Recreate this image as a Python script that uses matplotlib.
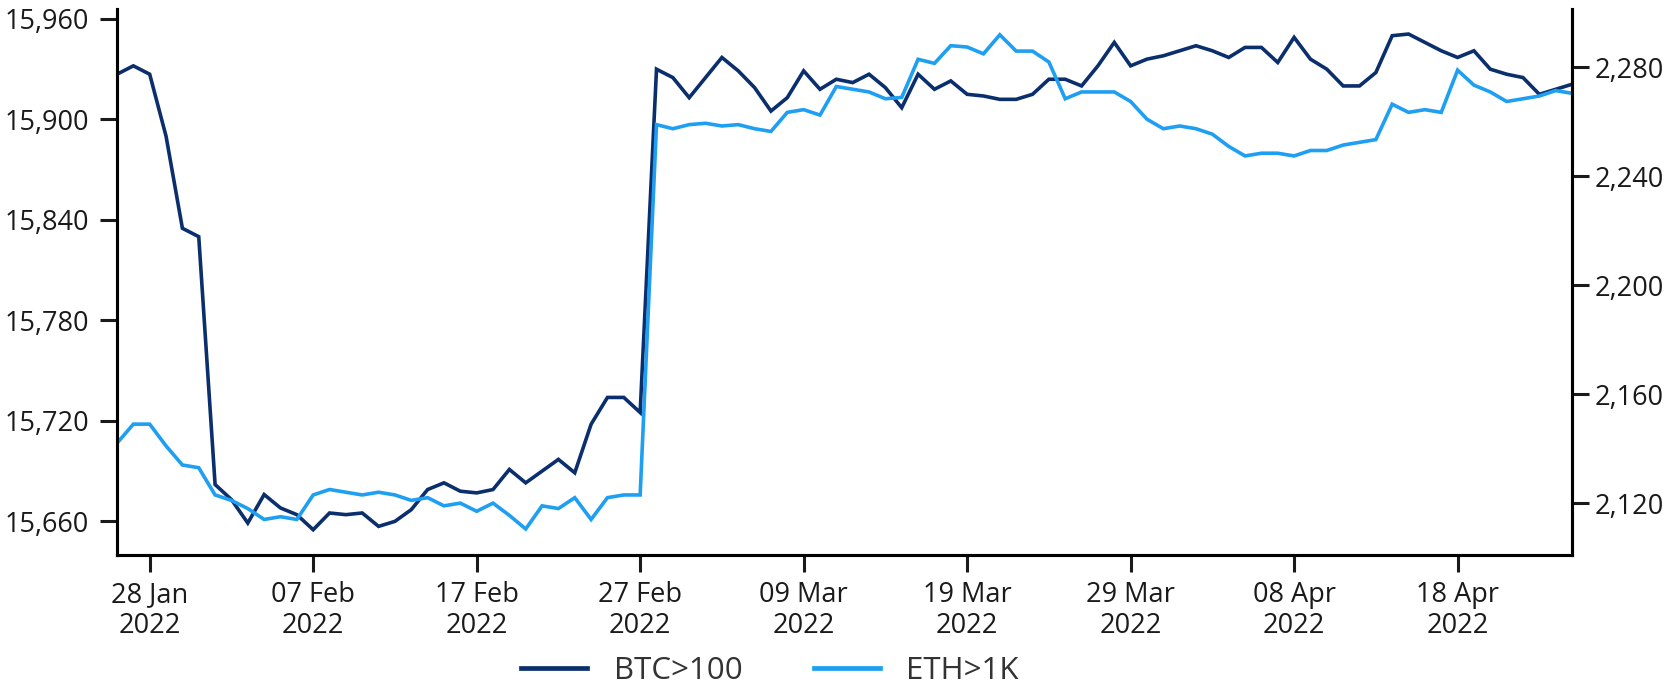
'''
BTC>100 vs ETH>1K daily series, two y axes.
'''

import matplotlib
matplotlib.use("Agg")
import matplotlib.pyplot as plt
import matplotlib.dates as mdates
import matplotlib.ticker as mticker
import pandas as pd

# Daily values, 26 Jan 2022 - 25 Apr 2022
dates = pd.date_range("2022-01-26", periods=90, freq="D")

btc_100 = [
    15927, 15932, 15927, 15890, 15835, 15830, 15682, 15673, 15659, 15676,
    15668, 15664, 15655, 15665, 15664, 15665, 15657, 15660, 15667, 15679,
    15683, 15678, 15677, 15679, 15691, 15683, 15690, 15697, 15689, 15718,
    15734, 15734, 15725, 15930, 15925, 15913, 15925, 15937, 15929, 15919,
    15905, 15913, 15929, 15918, 15924, 15922, 15927, 15919, 15907, 15927,
    15918, 15923, 15915, 15914, 15912, 15912, 15915, 15924, 15924, 15920,
    15932, 15946, 15932, 15936, 15938, 15941, 15944, 15941, 15937, 15943,
    15943, 15934, 15949, 15936, 15930, 15920, 15920, 15928, 15950, 15951,
    15946, 15941, 15937, 15941, 15930, 15927, 15925, 15915, 15918, 15921,
]

eth_1k = [
    2142, 2149, 2149, 2141, 2134, 2133, 2123, 2121, 2118, 2114,
    2115, 2114, 2123, 2125, 2124, 2123, 2124, 2123, 2121, 2122,
    2119, 2120, 2117, 2120, 2115.5, 2110.5, 2119, 2118, 2122, 2114,
    2122, 2123, 2123, 2259, 2257.5, 2259, 2259.5, 2258.5, 2259, 2257.5,
    2256.5, 2263.5, 2264.5, 2262.5, 2273, 2272, 2271, 2268.5, 2269, 2283,
    2281.5, 2288, 2287.5, 2285, 2292, 2286, 2286, 2282, 2268.5, 2271,
    2271, 2271, 2267.5, 2261, 2257.5, 2258.5, 2257.5, 2255.5, 2251, 2247.5,
    2248.5, 2248.5, 2247.5, 2249.5, 2249.5, 2251.5, 2252.5, 2253.5, 2266.5, 2263.5,
    2264.5, 2263.5, 2279, 2273.5, 2271, 2267.5, 2268.5, 2269.5, 2271.5, 2270.5,
]

labels = ["BTC>100", "ETH>1K"]
x_ticks = pd.date_range("2022-01-28", "2022-04-18", freq="10D")
left_ticks = [15660, 15720, 15780, 15840, 15900, 15960]
right_ticks = [2120, 2160, 2200, 2240, 2280]

plt.rcParams["font.family"] = ["Open Sans", "DejaVu Sans"]

dark = "#0b2f6c"
light = "#1f9ff2"
lw = 2.6

fig = plt.figure(figsize=(16.69, 6.85), dpi=100)
ax = fig.add_axes([0.0701, 0.19, 0.8718, 0.797])
ax2 = ax.twinx()

l1, = ax.plot(dates, btc_100, color=dark, lw=lw, solid_joinstyle="miter")
l2, = ax2.plot(dates, eth_1k, color=light, lw=lw, solid_joinstyle="miter")

ax.set_xlim(dates[0], dates[-1])
ax.set_ylim(15640, 15966)
ax2.set_ylim(2101, 2301.5)

ax.set_xticks(x_ticks)
ax.xaxis.set_major_formatter(mdates.DateFormatter("%d %b\n%Y"))
ax.set_yticks(left_ticks)
ax2.set_yticks(right_ticks)
fmt = mticker.FuncFormatter(lambda v, p: f"{v:,.0f}")
ax.yaxis.set_major_formatter(fmt)
ax2.yaxis.set_major_formatter(fmt)

for a in (ax, ax2):
    a.spines["top"].set_visible(False)
    for s in ("left", "right", "bottom"):
        a.spines[s].set_linewidth(2.2)
    a.tick_params(width=2.2, length=12, labelsize=19.5, colors="#1a1a1a")
ax.tick_params(axis="y", pad=8)
ax.tick_params(axis="x", pad=7)
ax2.tick_params(axis="y", pad=4)
for t in ax.get_xticklabels():
    t.set_linespacing(1.15)

leg = fig.legend([l1, l2], labels, loc="center", bbox_to_anchor=(0.4615, 0.02),
                 ncol=2, frameon=False, fontsize=22.5, handlelength=2.1,
                 handletextpad=0.85, columnspacing=2.3, labelcolor="#333333")
for h in leg.legend_handles:
    h.set_linewidth(3.4)

fig.savefig("out.png", dpi=100)
